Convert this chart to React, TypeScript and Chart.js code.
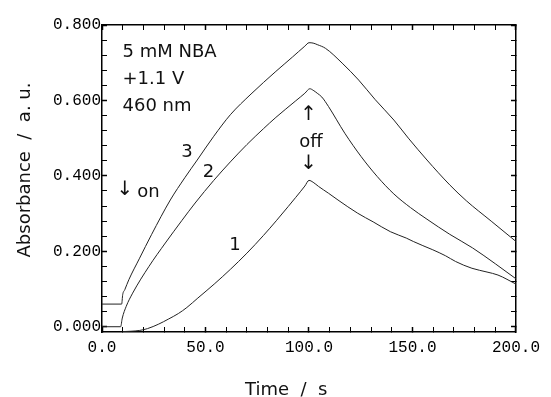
import React, { useEffect, useRef } from 'react';
import { Chart, registerables } from 'chart.js';

Chart.register(...registerables);

// Curve 1
const T1 = [10, 14, 18, 22, 27.4, 32, 36.9, 41, 46.3, 54.2, 62, 70, 78, 84.2, 90, 93.6, 98, 100, 102, 104.6, 109.4, 114, 123.5, 131, 139.3, 147, 150.4, 155, 159.8, 166, 170.8, 178.7, 186, 191.3, 200];
const V1 = [-0.013, -0.012, -0.01, -0.005, 0.007, 0.02, 0.035, 0.051, 0.076, 0.113, 0.152, 0.195, 0.242, 0.281, 0.319, 0.343, 0.373, 0.388, 0.383, 0.372, 0.354, 0.336, 0.301, 0.278, 0.252, 0.235, 0.226, 0.215, 0.204, 0.188, 0.173, 0.155, 0.145, 0.137, 0.113];

// Curve 2
const T2 = [0, 9, 9.8, 11.7, 14.8, 22.7, 30.6, 38.5, 45, 54, 62, 70, 78, 84, 93.6, 98, 100.4, 102, 104, 106.2, 109.4, 117.3, 125.2, 133, 141, 149, 157, 168, 179, 190, 200];
const V2 = [0, 0, 0.023, 0.054, 0.089, 0.16, 0.222, 0.281, 0.328, 0.388, 0.437, 0.483, 0.525, 0.555, 0.599, 0.619, 0.631, 0.627, 0.619, 0.609, 0.584, 0.513, 0.451, 0.398, 0.352, 0.316, 0.285, 0.245, 0.209, 0.167, 0.127];

// Curve 3
const T3 = [0, 9.5, 10, 11, 13, 18, 24, 33, 40, 46, 54, 62, 72, 84, 92, 98, 100, 102, 104, 108, 116, 124, 132, 141, 148, 157, 168, 176, 188, 200];
const V3 = [0.06, 0.06, 0.085, 0.098, 0.125, 0.18, 0.245, 0.336, 0.395, 0.442, 0.505, 0.562, 0.617, 0.677, 0.715, 0.744, 0.753, 0.752, 0.748, 0.738, 0.699, 0.654, 0.602, 0.548, 0.5, 0.442, 0.376, 0.334, 0.28, 0.226];

const X_MAJOR = [0, 50, 100, 150, 200];
const Y_MAJOR = [0, 0.2, 0.4, 0.6, 0.8];

const X_TITLE = 'Time  /  s';
const Y_TITLE = 'Absorbance  /  a. u.';

// in-plot annotations: [text, t, value, align]
const NOTES: [string, number, number, CanvasTextAlign][] = [
  ['5 mM NBA', 9.9, 0.715, 'left'],
  ['+1.1 V', 9.9, 0.644, 'left'],
  ['460 nm', 9.9, 0.572, 'left'],
  ['3', 38.3, 0.45, 'left'],
  ['2', 48.7, 0.397, 'left'],
  ['1', 61.5, 0.203, 'left'],
  ['on', 17, 0.344, 'left'],
  ['off', 101, 0.4765, 'center'],
];
// arrows: [glyph, t, value (centre)]
const ARROWS: [string, number, number][] = [
  ['↓', 11.1, 0.3625],
  ['↑', 99.8, 0.561],
  ['↓', 99.8, 0.4315],
];

const SANS = '"DejaVu Sans"';
const MONO = '"Liberation Mono"';

const annotPlugin = {
  id: 'annot',
  afterDraw(chart: any) {
    const { ctx, scales } = chart;
    const xs = scales.x;
    const ys = scales.y;
    ctx.save();
    ctx.fillStyle = '#111';
    ctx.font = `18px ${SANS}`;
    ctx.textBaseline = 'alphabetic';
    for (const [txt, t, v, al] of NOTES) {
      ctx.textAlign = al;
      ctx.fillText(txt, xs.getPixelForValue(t), ys.getPixelForValue(v));
    }
    ctx.textAlign = 'center';
    ctx.textBaseline = 'middle';
    ctx.font = `20px ${SANS}`;
    for (const [g, t, v] of ARROWS) {
      ctx.fillText(g, xs.getPixelForValue(t), ys.getPixelForValue(v));
    }
    // axis titles
    ctx.font = `18px ${SANS}`;
    ctx.textAlign = 'left';
    ctx.textBaseline = 'alphabetic';
    ctx.fillText(X_TITLE, 245, 395);
    ctx.save();
    ctx.translate(30, 170);
    ctx.rotate(-Math.PI / 2);
    ctx.textAlign = 'center';
    ctx.fillText(Y_TITLE, 0, 0);
    ctx.restore();
    ctx.restore();
  },
};

const isMajor = (v: number, list: number[]) => list.some((m) => Math.abs(m - v) < 1e-9);

export default function App() {
  const ref = useRef<HTMLCanvasElement>(null);
  useEffect(() => {
    if (!ref.current) return;
    const mk = (T: number[], V: number[]) => T.map((t, i) => ({ x: t, y: V[i] }));
    const lineDs = (label: string, T: number[], V: number[]) => ({
      label,
      data: mk(T, V),
      borderColor: '#222',
      borderWidth: 1,
      pointRadius: 0,
      cubicInterpolationMode: 'monotone',
      fill: false,
    });
    const gridX = {
      drawOnChartArea: false,
      drawTicks: true,
      tickLength: -5,
      tickColor: '#000',
      tickWidth: (c: any) => (c.tick && isMajor(c.tick.value, X_MAJOR) ? 1.5 : 1),
    };
    const gridY = {
      drawOnChartArea: false,
      drawTicks: true,
      tickLength: -5,
      tickColor: '#000',
      tickWidth: (c: any) => (c.tick && isMajor(c.tick.value, Y_MAJOR) ? 1.5 : 1),
    };
    const border = { display: true, color: '#000', width: 1.5 };
    const chart = new Chart(ref.current, {
      type: 'line',
      data: {
        datasets: [lineDs('1', T1, V1), lineDs('2', T2, V2), lineDs('3', T3, V3)],
      },
      options: {
        animation: false,
        responsive: false,
        maintainAspectRatio: false,
        devicePixelRatio: 1,
        layout: { padding: 0 },
        plugins: { legend: { display: false }, tooltip: { enabled: false } },
        scales: {
          x: {
            type: 'linear',
            position: 'bottom',
            min: 0,
            max: 200,
            grid: gridX,
            border,
            ticks: {
              stepSize: 10,
              autoSkip: false,
              maxRotation: 0,
              padding: 11,
              color: '#000',
              font: { family: MONO, size: 16 },
              callback: (v: any) => (isMajor(Number(v), X_MAJOR) ? Number(v).toFixed(1) : ''),
            },
            afterFit: (s: any) => { s.height = 65; },
          },
          xTop: {
            type: 'linear',
            position: 'top',
            min: 0,
            max: 200,
            grid: gridX,
            border,
            ticks: { stepSize: 10, display: false },
            afterFit: (s: any) => { s.height = 25; },
          },
          y: {
            type: 'linear',
            position: 'left',
            min: -0.014,
            max: 0.8,
            grid: gridY,
            border,
            ticks: {
              stepSize: 0.04,
              includeBounds: false,
              autoSkip: false,
              padding: 6,
              color: '#000',
              font: { family: MONO, size: 16 },
              callback: (v: any) => (isMajor(Number(v), Y_MAJOR) ? Number(v).toFixed(3) : ''),
            },
            afterFit: (s: any) => { s.width = 102; },
          },
          yR: {
            type: 'linear',
            position: 'right',
            min: -0.014,
            max: 0.8,
            grid: gridY,
            border,
            ticks: { stepSize: 0.04, includeBounds: false, display: false },
            afterFit: (s: any) => { s.width = 26; },
          },
        },
      },
      plugins: [annotPlugin],
    } as any);
    return () => chart.destroy();
  }, []);
  return (
    <div style={{ position: 'fixed', left: 0, top: 0, width: 551, height: 397, background: '#fff' }}>
      <canvas ref={ref} width={551} height={397} style={{ width: 551, height: 397, display: 'block' }} />
    </div>
  );
}
